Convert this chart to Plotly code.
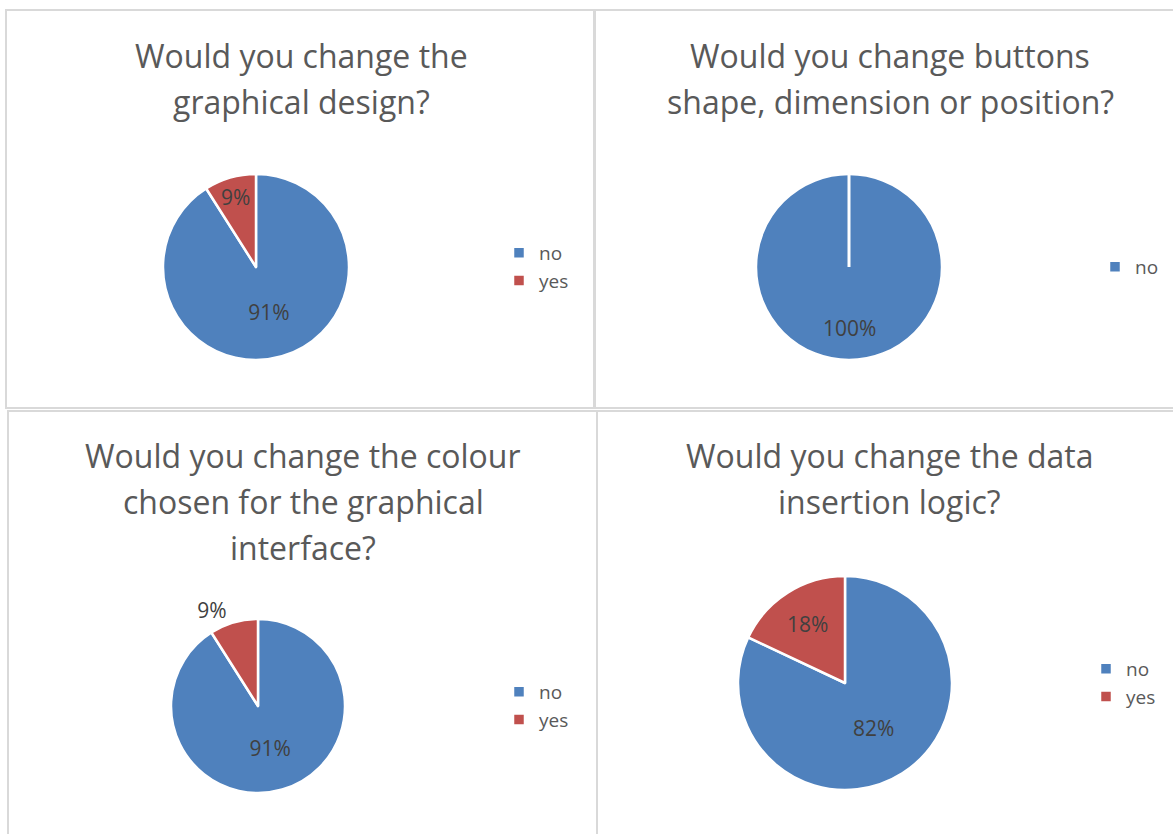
import plotly.graph_objects as go

# ---------------- data ----------------
titles = [
    ["Would you change the", "graphical design?"],
    ["Would you change buttons", "shape, dimension or position?"],
    ["Would you change the colour", "chosen for the graphical", "interface?"],
    ["Would you change the data", "insertion logic?"],
]
labels_design = ["no", "yes"]
values_design = [91, 9]
labels_buttons = ["no"]
values_buttons = [100]
labels_colour = ["no", "yes"]
values_colour = [91, 9]
labels_logic = ["no", "yes"]
values_logic = [82, 18]

# ---------------- styling / layout ----------------
W, H = 1173, 834
FONT = "Open Sans"
BLUE, RED = "#4F81BD", "#C0504D"
COLORS = {"no": BLUE, "yes": RED}
TITLE_COLOR = "#595959"
LABEL_COLOR = "#404040"
BORDER = "#D9D9D9"


def px(x):
    return x / W


def py(y):
    return 1 - y / H


panels = [  # x0, y0, x1, y1 in pixels
    (6, 10, 594, 408),
    (595, 10, 1180, 408),
    (8, 411, 597, 840),
    (597, 411, 1180, 840),
]
pies = [  # cx, cy, r (pixels)
    (256, 267, 93),
    (849, 267, 93),
    (258, 706, 87),
    (845, 683, 107),
]
title_pos = [  # center x, first line y, line step
    (301, 55, 46),
    (890, 55, 46),
    (303, 455, 46),
    (889, 455, 46),
]
legend_pos = [  # left x, center y
    (499, 267),
    (1095, 267),
    (499, 706),
    (1086, 683),
]
textpositions = [
    ["inside", "inside"],
    ["none"],
    ["inside", "outside"],
    ["inside", "inside"],
]

data = [
    (labels_design, values_design),
    (labels_buttons, values_buttons),
    (labels_colour, values_colour),
    (labels_logic, values_logic),
]

fig = go.Figure()
legend_names = ["legend", "legend2", "legend3", "legend4"]

for i, ((labs, vals), (cx, cy, r)) in enumerate(zip(data, pies)):
    fig.add_trace(go.Pie(
        labels=labs,
        values=vals,
        sort=False,
        direction="clockwise",
        rotation=0,
        domain=dict(x=[px(cx - r), px(cx + r)], y=[py(cy + r), py(cy - r)]),
        marker=dict(colors=[COLORS[l] for l in labs], line=dict(color="white", width=2.5)),
        texttemplate="%{value}%",
        textposition=textpositions[i],
        insidetextorientation="horizontal",
        textfont=dict(family=FONT, size=21, color=LABEL_COLOR),
        hoverinfo="label+percent",
        legend=legend_names[i],
        legendgroup="g%d" % i,
        showlegend=True,
    ))

shapes = []
for (x0, y0, x1, y1) in panels:
    shapes.append(dict(type="rect", xref="paper", yref="paper",
                       x0=px(x0), x1=px(x1), y0=py(y1), y1=py(y0),
                       line=dict(color=BORDER, width=2), fillcolor="rgba(0,0,0,0)", layer="below"))

# white radial separator drawn by Excel on the single 100% slice
cx, cy, r = pies[1]
shapes.append(dict(type="line", xref="paper", yref="paper",
                   x0=px(cx), x1=px(cx), y0=py(cy), y1=py(cy - r - 1),
                   line=dict(color="white", width=3)))

annotations = []
for lines, (tx, ty, step) in zip(titles, title_pos):
    for k, line in enumerate(lines):
        annotations.append(dict(text=line, x=px(tx), y=py(ty + k * step),
                                xref="paper", yref="paper", xanchor="center", yanchor="middle",
                                showarrow=False,
                                font=dict(family=FONT, size=32, color=TITLE_COLOR)))

# data label of the single full slice, placed below the centre like Excel does
annotations.append(dict(text="%d%%" % values_buttons[0], x=px(cx), y=py(cy + 0.66 * r),
                        xref="paper", yref="paper", xanchor="center", yanchor="middle",
                        showarrow=False, font=dict(family=FONT, size=21, color=LABEL_COLOR)))

layout_legends = {}
for name, (lx, ly) in zip(legend_names, legend_pos):
    layout_legends[name] = dict(
        x=px(lx), y=py(ly), xanchor="left", yanchor="middle",
        xref="paper", yref="paper",
        font=dict(family=FONT, size=19, color=TITLE_COLOR),
        bgcolor="rgba(0,0,0,0)",
        itemclick=False, itemdoubleclick=False,
    )

fig.update_layout(
    width=W, height=H,
    margin=dict(l=0, r=0, t=0, b=0),
    paper_bgcolor="white",
    plot_bgcolor="white",
    font=dict(family=FONT, color=TITLE_COLOR),
    shapes=shapes,
    annotations=annotations,
    uniformtext=dict(minsize=21, mode="show"),
    **layout_legends,
)

fig.write_html("out.html", config={"displayModeBar": False},
               post_script="document.body.style.margin='0px';")
